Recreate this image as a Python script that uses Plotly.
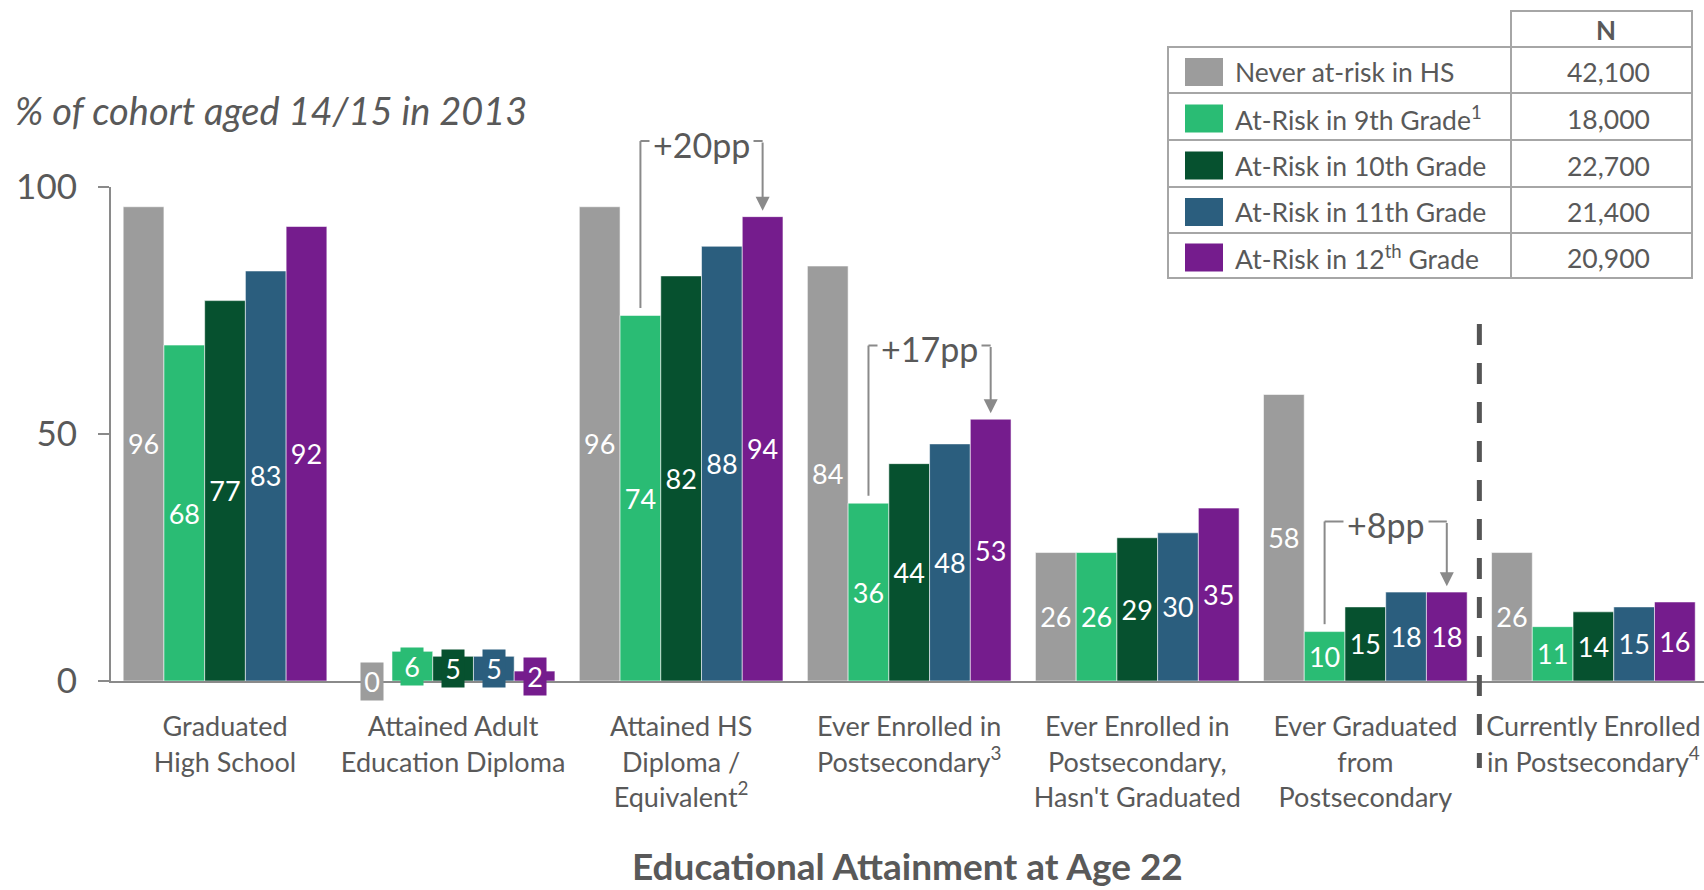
import plotly.graph_objects as go

# ---- data ----
categories = [
    "Graduated<br>High School",
    "Attained Adult<br>Education Diploma",
    "Attained HS<br>Diploma /<br>Equivalent<sup>2</sup>",
    "Ever Enrolled in<br>Postsecondary<sup>3</sup>",
    "Ever Enrolled in<br>Postsecondary,<br>Hasn't Graduated",
    "Ever Graduated<br>from<br>Postsecondary",
    "Currently Enrolled<br>in Postsecondary<sup>4</sup>",
]
series_names = [
    "Never at-risk in HS",
    "At-Risk in 9th Grade<sup>1</sup>",
    "At-Risk in 10th Grade",
    "At-Risk in 11th Grade",
    "At-Risk in 12<sup>th</sup> Grade",
]
series_n = ["42,100", "18,000", "22,700", "21,400", "20,900"]

never_at_risk = [96, 0, 96, 84, 26, 58, 26]
at_risk_9 = [68, 6, 74, 36, 26, 10, 11]
at_risk_10 = [77, 5, 82, 44, 29, 15, 14]
at_risk_11 = [83, 5, 88, 48, 30, 18, 15]
at_risk_12 = [92, 2, 94, 53, 35, 18, 16]

# groups where the 9th -> 12th grade gap is called out, with bracket heights
gap_groups = [2, 3, 5]
gap_bracket_top = [109.3, 67.9, 32.3]

# group whose bars are too short for inside labels
small_group = 1

# ---- style ----
colors = ["#9c9c9c", "#2abc74", "#06512f", "#2b5e7e", "#751c8d"]
text_gray = "#595959"
line_gray = "#8a8a8a"
FONT = "Lato"

W, H = 1704, 890
ML, MR, MT, MB = 111, 0, 187, 209
BARGAP = 0.107

series = [never_at_risk, at_risk_9, at_risk_10, at_risk_11, at_risk_12]
n_series = len(series)
bar_w = (1 - BARGAP) / n_series


def bar_x(group, s):
    return group + (s - (n_series - 1) / 2) * bar_w


def px_x(px):
    return (px - ML) / (W - ML - MR)


def px_y(py):
    return (H - MB - py) / (H - MT - MB)


fig = go.Figure()
xs = list(range(len(categories)))
for s, (name, vals) in enumerate(zip(series_names, series)):
    labels = ["" if g == small_group else str(v) for g, v in enumerate(vals)]
    fig.add_trace(go.Bar(
        x=xs, y=vals, name=name,
        marker=dict(color=colors[s], line=dict(color="rgba(255,255,255,0.55)", width=1)),
        text=labels, textposition="inside", insidetextanchor="middle",
        textangle=0, constraintext="none",
        textfont=dict(family=FONT, size=27, color="white"),
        showlegend=False,
    ))

shapes = []
annotations = []

# boxed labels for the short bars
for s, vals in enumerate(series):
    v = vals[small_group]
    annotations.append(dict(
        x=bar_x(small_group, s), xref="x", y=v / 2 / 100, yref="y domain",
        text=str(v), showarrow=False, bgcolor=colors[s],
        font=dict(family=FONT, size=27, color="white"),
        width=22, height=37, borderpad=0, xanchor="center", yanchor="middle",
    ))

# gap call-outs: bracket from the 9th-grade bar to an arrow on the 12th-grade bar
for g, top in zip(gap_groups, gap_bracket_top):
    low, high = at_risk_9[g], at_risk_12[g]
    xg, xp = bar_x(g, 1), bar_x(g, 4)
    shapes.append(dict(type="line", xref="x", yref="paper",
                       x0=xg, x1=xg, y0=(low + 1.5) / 100, y1=top / 100,
                       line=dict(color=line_gray, width=2)))
    shapes.append(dict(type="line", xref="x", yref="paper",
                       x0=xg, x1=xp, y0=top / 100, y1=top / 100,
                       line=dict(color=line_gray, width=2)))
    annotations.append(dict(
        x=xp, xref="x", y=(high + 1.2) / 100, yref="y domain",
        ax=xp, axref="x", ay=top / 100, ayref="y domain",
        text="", showarrow=True, arrowhead=2, arrowsize=1.4,
        arrowwidth=2, arrowcolor=line_gray,
    ))
    annotations.append(dict(
        x=(xg + xp) / 2, xref="x", y=top / 100 - 0.006, yref="y domain",
        text=f"+{high - low}pp", showarrow=False, bgcolor="white", borderpad=3,
        font=dict(family=FONT, size=34, color=text_gray),
        xanchor="center", yanchor="middle",
    ))

# divider before the "currently enrolled" group
shapes.append(dict(type="line", xref="x", yref="paper",
                   x0=5.5, x1=5.5, y0=px_y(324), y1=px_y(768),
                   line=dict(color="#555555", width=5, dash="21px,18px")))

# y-axis heading and x-axis title
annotations.append(dict(
    x=px_x(13), xref="paper", y=px_y(110), yref="paper",
    text="<i>% of cohort aged 14/15 in 2013</i>", showarrow=False,
    xanchor="left", yanchor="middle",
    font=dict(family=FONT, size=38, color=text_gray),
))
annotations.append(dict(
    x=0.5, xref="paper", y=px_y(865), yref="paper",
    text="<b>Educational Attainment at Age 22</b>", showarrow=False,
    xanchor="center", yanchor="middle",
    font=dict(family=FONT, size=37, color=text_gray),
))

# legend table with sample sizes
tbl_l, tbl_div, tbl_r = 1168, 1511, 1692
hdr_t, tbl_t = 11, 47
row_edges = [47, 93, 140, 187, 233, 278]
border = dict(color="#a6a6a6", width=2)
shapes.append(dict(type="rect", xref="paper", yref="paper",
                   x0=px_x(tbl_div), x1=px_x(tbl_r), y0=px_y(hdr_t), y1=px_y(tbl_t),
                   line=border, fillcolor="white"))
shapes.append(dict(type="rect", xref="paper", yref="paper",
                   x0=px_x(tbl_l), x1=px_x(tbl_r), y0=px_y(row_edges[0]), y1=px_y(row_edges[-1]),
                   line=border, fillcolor="white"))
shapes.append(dict(type="line", xref="paper", yref="paper",
                   x0=px_x(tbl_div), x1=px_x(tbl_div), y0=px_y(row_edges[0]), y1=px_y(row_edges[-1]),
                   line=border))
for e in row_edges[1:-1]:
    shapes.append(dict(type="line", xref="paper", yref="paper",
                       x0=px_x(tbl_l), x1=px_x(tbl_r), y0=px_y(e), y1=px_y(e),
                       line=border))
annotations.append(dict(
    x=px_x(1606), xref="paper", y=px_y(30), yref="paper", text="<b>N</b>",
    showarrow=False, xanchor="center", yanchor="middle",
    font=dict(family=FONT, size=26, color=text_gray),
))
for i, (name, n) in enumerate(zip(series_names, series_n)):
    cy = (row_edges[i] + row_edges[i + 1]) / 2 + 2
    shapes.append(dict(type="rect", xref="paper", yref="paper",
                       x0=px_x(1185), x1=px_x(1223), y0=px_y(cy - 14), y1=px_y(cy + 14),
                       line=dict(width=0), fillcolor=colors[i]))
    annotations.append(dict(
        x=px_x(1233), xref="paper", y=px_y(cy), yref="paper", text=name,
        showarrow=False, xanchor="left", yanchor="middle",
        font=dict(family=FONT, size=26.5, color=text_gray),
    ))
    annotations.append(dict(
        x=px_x(1608), xref="paper", y=px_y(cy), yref="paper", text=n,
        showarrow=False, xanchor="center", yanchor="middle",
        font=dict(family=FONT, size=26.5, color=text_gray),
    ))

fig.update_layout(
    width=W, height=H,
    margin=dict(l=ML, r=MR, t=MT, b=MB, pad=0),
    paper_bgcolor="white", plot_bgcolor="white",
    barmode="group", bargap=BARGAP, bargroupgap=0,
    font=dict(family=FONT, color=text_gray),
    shapes=shapes, annotations=annotations,
    xaxis=dict(
        range=[-0.5, 6.485], tickmode="array", tickvals=xs, ticktext=categories,
        showgrid=False, zeroline=False, showline=True, linecolor=line_gray, linewidth=2,
        ticks="", tickfont=dict(family=FONT, size=27, color=text_gray),
        ticklabelstandoff=21,
    ),
    yaxis=dict(
        range=[0, 100], tickmode="array", tickvals=[0, 50, 100],
        showgrid=False, zeroline=False, showline=True, linecolor=line_gray, linewidth=2,
        ticks="outside", ticklen=11, tickwidth=2, tickcolor=line_gray,
        tickfont=dict(family=FONT, size=35, color=text_gray),
        ticklabelstandoff=14,
    ),
)

fig.write_html("out.html")
